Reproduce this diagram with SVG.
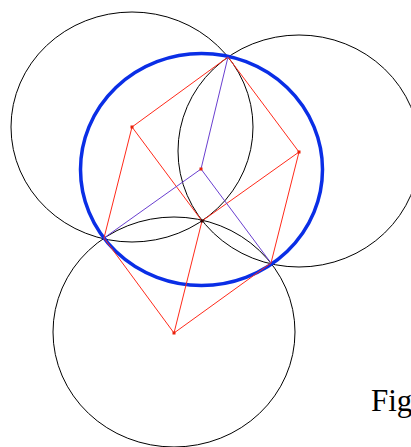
<svg xmlns="http://www.w3.org/2000/svg" width="411" height="447" viewBox="0 0 411 447">
<style>
.c{fill:none;stroke:#000;stroke-width:1}
.b{fill:none;stroke:#0a2ee6;stroke-width:3.5}
.r{fill:none;stroke:#ff2a1a;stroke-width:1}
.p{fill:none;stroke:#6a3fd0;stroke-width:1}
.d{fill:#e8200a}
.t{font-family:"Liberation Serif",serif;font-size:31px;fill:#000}
</style>
<rect width="411" height="447" fill="#fff"/>
<g id="circles">
<ellipse id="circleA" class="c" cx="132" cy="127" rx="121" ry="115"/>
<ellipse id="circleB" class="c" cx="299" cy="151" rx="121" ry="116"/>
<ellipse id="circleC" class="c" cx="174" cy="332" rx="121" ry="115"/>
<ellipse id="circumcircle" class="b" cx="201.5" cy="169.5" rx="121" ry="116"/>
</g>
<g id="connectors">
<polyline class="r" points="228,57 132,127 104,238"/>
<line class="r" x1="132" y1="127" x2="202" y2="221"/>
<polyline class="r" points="228,57 299,152 271,263"/>
<line class="r" x1="299" y1="152" x2="202" y2="221"/>
<polyline class="r" points="104,238 174,333 271,263"/>
<line class="r" x1="174" y1="333" x2="202" y2="221"/>
<line class="p" x1="201" y1="169" x2="228" y2="57"/>
<line class="p" x1="201" y1="169" x2="104" y2="238"/>
<line class="p" x1="201" y1="169" x2="271" y2="263"/>
</g>
<g id="points">
<rect class="d" x="130.5" y="125.5" width="3" height="3"/>
<rect class="d" x="297.5" y="150.5" width="3" height="3"/>
<rect class="d" x="172.5" y="331.5" width="3" height="3"/>
<rect class="d" x="199.5" y="167.5" width="3" height="3"/>
<rect fill="#300" x="200.5" y="219.5" width="3" height="3"/>
</g>
<text class="t" x="371" y="411">Fig</text>
</svg>
